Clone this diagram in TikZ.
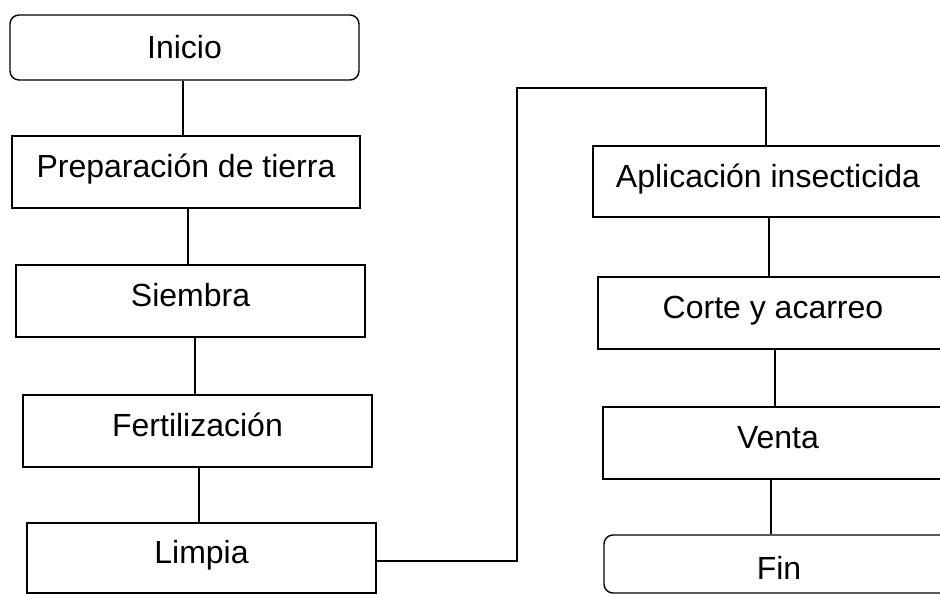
\documentclass[tikz,border=0pt]{standalone}
\usepackage{fontspec}
\setmainfont{Liberation Sans}
\begin{document}
\begin{tikzpicture}[x=1pt,y=-1pt,
  box/.style={draw=black, line width=1.4pt, rectangle, inner sep=0pt,
    font=\fontsize{32}{38}\selectfont, text height=23pt, text depth=12pt},
  rbox/.style={box, rounded corners=9pt},
  link/.style={draw=black, line width=1.4pt}]
\useasboundingbox (0,0) rectangle (940,594);
\clip (0,0) rectangle (940,594);
\fill[white] (0,0) rectangle (940,594);

\node[rbox, minimum width=349pt, minimum height=65pt, text depth=0pt] (inicio) at (184.5,47.5) {Inicio};
\node[box, minimum width=348pt, minimum height=72pt] (prep) at (186,172) {Preparación de tierra};
\node[box, minimum width=349pt, minimum height=72pt] (siembra) at (190.5,301) {Siembra};
\node[box, minimum width=349pt, minimum height=72pt] (fert) at (197.5,431) {Fertilización};
\node[box, minimum width=349pt, minimum height=70pt] (limpia) at (201.5,558) {Limpia};

\node[box, minimum width=350pt, minimum height=71pt] (aplic) at (768,181.5) {Aplicación insecticida};
\node[box, minimum width=350pt, minimum height=72pt] (corte) at (773,313) {Corte y acarreo};
\node[box, minimum width=350pt, minimum height=72pt] (venta) at (778,443) {Venta};
\node[rbox, minimum width=350pt, minimum height=58pt, text height=30pt, text depth=0pt] (fin) at (779,564) {Fin};

\coordinate (turn) at (517,88);

\draw[link] ([xshift=-1.5pt]inicio.south) -- ([xshift=-1.5pt]inicio.south |- prep.north);
\draw[link] ([xshift=2pt]prep.south) -- ([xshift=2pt]prep.south |- siembra.north);
\draw[link] ([xshift=4.5pt]siembra.south) -- ([xshift=4.5pt]siembra.south |- fert.north);
\draw[link] ([xshift=1.5pt]fert.south) -- ([xshift=1.5pt]fert.south |- limpia.north);
\draw[link] ([yshift=-3pt]limpia.east) -| (turn) -| ([xshift=-2pt]aplic.north);
\draw[link] ([xshift=1pt]aplic.south) -- ([xshift=1pt]aplic.south |- corte.north);
\draw[link] ([xshift=2pt]corte.south) -- ([xshift=2pt]corte.south |- venta.north);
\draw[link] ([xshift=-7pt]venta.south) -- ([xshift=-7pt]venta.south |- fin.north);
\end{tikzpicture}
\end{document}
